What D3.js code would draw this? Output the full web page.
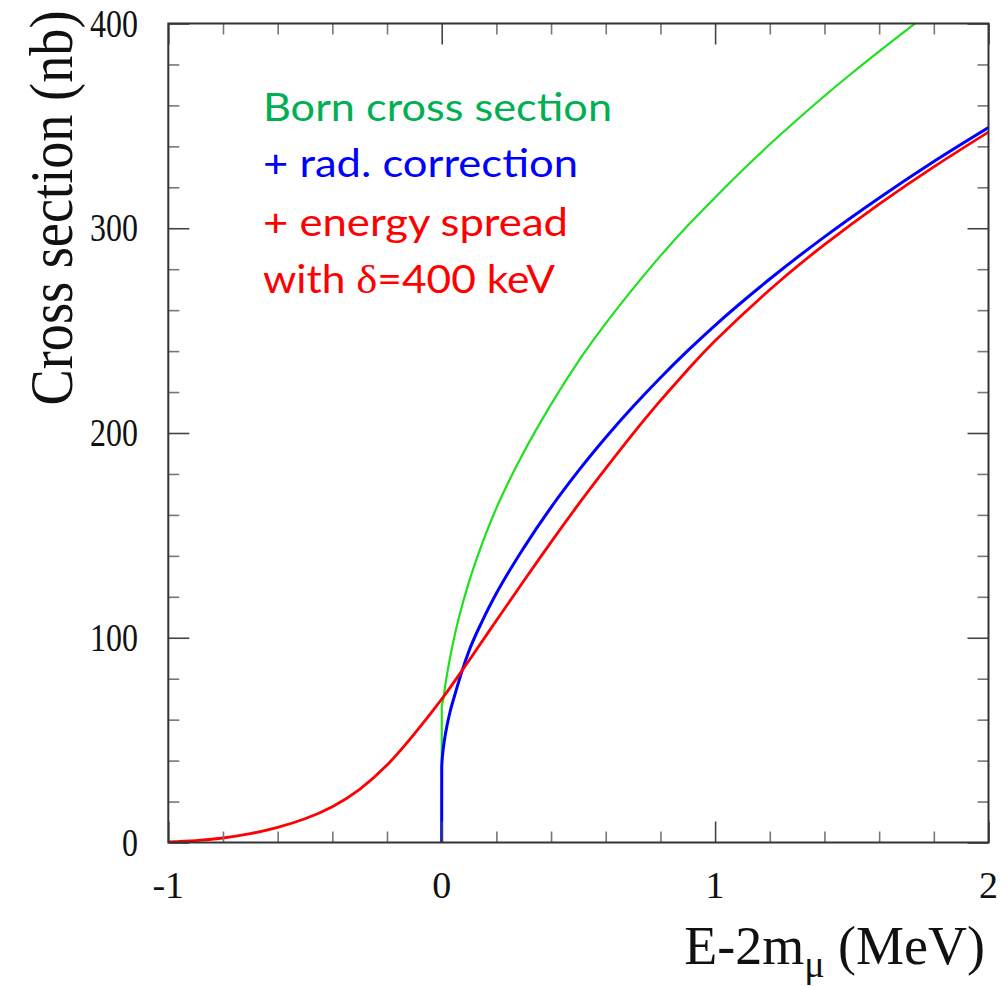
<!DOCTYPE html>
<html>
<head>
<meta charset="utf-8">
<script src="https://cdn.jsdelivr.net/npm/d3@7"></script>
<style>
  html, body { margin: 0; padding: 0; background: #ffffff; }
  svg { display: block; }
</style>
</head>
<body>
<svg id="chart" width="1007" height="986"></svg>
<script>
// Axis ticks
const xTicksMajor = [-1, 0, 1, 2];
const xTicksMinor = [-0.8, -0.6, -0.4, -0.2, 0.2, 0.4, 0.6, 0.8, 1.2, 1.4, 1.6, 1.8];
const yTicksMajor = [0, 100, 200, 300, 400];
const yTicksMinor = [20, 40, 60, 80, 120, 140, 160, 180, 220, 240, 260, 280, 320, 340, 360, 380];

// Born cross section (nb) vs E-2m_mu (MeV)
const bornE  = [0, 0.0002, 0.005, 0.01, 0.02, 0.03, 0.05, 0.075, 0.1, 0.15, 0.2, 0.3, 0.4, 0.5, 0.6, 0.7, 0.8, 0.9, 1.0, 1.1, 1.2, 1.3, 1.4, 1.5, 1.6, 1.7, 1.8, 1.9, 2.0];
const bornXS = [0, 67, 69.3, 73.9, 82.5, 89.9, 102.7, 115.9, 127.3, 146.7, 163.3, 190.6, 214, 235, 253.5, 270.5, 286.5, 301.3, 315, 328.3, 341, 353, 364.6, 375.7, 386.4, 396.8, 406.8, 416.5, 426];

// with radiative correction
const radE  = [0, 0.0002, 0.005, 0.01, 0.02, 0.03, 0.05, 0.075, 0.1, 0.15, 0.2, 0.3, 0.4, 0.5, 0.6, 0.7, 0.8, 0.9, 1.0, 1.2, 1.4, 1.6, 1.8, 2.0];
const radXS = [0, 37, 45, 50, 57.5, 63.5, 73, 84, 93.6, 108.6, 121.7, 143.9, 163.7, 181.5, 197.8, 212.9, 227, 240.2, 252.6, 275.2, 295.8, 314.8, 332.6, 349.2];

// with radiative correction and beam energy spread
const smearE  = [-1.0, -0.9, -0.8, -0.7, -0.6, -0.5, -0.4, -0.3, -0.2, -0.1, 0, 0.05, 0.1, 0.2, 0.3, 0.4, 0.5, 0.6, 0.7, 0.8, 0.9, 1.0, 1.2, 1.4, 1.6, 1.8, 2.0];
const smearXS = [0.3, 0.9, 2.2, 4.3, 7.4, 11.6, 17.5, 26, 37.8, 53, 70, 79.3, 88.9, 108.4, 127.7, 146.7, 165.1, 182.7, 199.7, 215.8, 230.9, 245, 270, 292, 311.8, 330, 347];

const legendLines = ["Born cross section", "+ rad. correction", "+ energy spread", "with "];

const svg = d3.select("#chart");

const plotLeft = 168.3, plotRight = 988.5, plotTop = 23.5, plotBottom = 842.5;
const x = d3.scaleLinear().domain([-1, 2]).range([plotLeft, plotRight]);
const y = d3.scaleLinear().domain([0, 400]).range([plotBottom, plotTop]);

// clip region for the curves
svg.append("defs").append("clipPath").attr("id", "plotClip")
  .append("rect").attr("x", plotLeft).attr("y", plotTop)
  .attr("width", plotRight - plotLeft).attr("height", plotBottom - plotTop);

// curves: the two threshold curves jump at E = 2m, so they use a monotone
// interpolation; the smeared curve is smooth everywhere
const series = [
  { e: bornE,  s: bornXS,  color: "#1ee01e", width: 2.2, curve: d3.curveMonotoneX },
  { e: radE,   s: radXS,   color: "#0000ff", width: 3,   curve: d3.curveMonotoneX },
  { e: smearE, s: smearXS, color: "#ff0000", width: 2.8, curve: d3.curveNatural }
];
const curves = svg.append("g").attr("clip-path", "url(#plotClip)");
series.forEach(sr => {
  const line = d3.line().x(d => x(d[0])).y(d => y(d[1])).curve(sr.curve);
  curves.append("path")
    .datum(sr.e.map((v, i) => [v, sr.s[i]]))
    .attr("d", line)
    .attr("fill", "none")
    .attr("stroke", sr.color)
    .attr("stroke-width", sr.width)
    .attr("stroke-linejoin", "round");
});

// ticks on all four sides, pointing inward
function tickAxis(axisFn, scale, values, size, transform, color) {
  const g = svg.append("g").attr("transform", transform)
    .call(axisFn(scale).tickValues(values).tickSize(-size).tickFormat(""));
  g.select(".domain").remove();
  g.selectAll(".tick line").attr("stroke", color).attr("stroke-width", 1.6);
  return g;
}
tickAxis(d3.axisBottom, x, xTicksMajor, 21, `translate(0,${plotBottom})`, "#444");
tickAxis(d3.axisBottom, x, xTicksMinor, 11, `translate(0,${plotBottom})`, "#777");
tickAxis(d3.axisTop, x, xTicksMajor, 21, `translate(0,${plotTop})`, "#444");
tickAxis(d3.axisTop, x, xTicksMinor, 11, `translate(0,${plotTop})`, "#777");
tickAxis(d3.axisLeft, y, yTicksMajor, 21, `translate(${plotLeft},0)`, "#444");
tickAxis(d3.axisLeft, y, yTicksMinor, 11, `translate(${plotLeft},0)`, "#777");
tickAxis(d3.axisRight, y, yTicksMajor, 21, `translate(${plotRight},0)`, "#444");
tickAxis(d3.axisRight, y, yTicksMinor, 11, `translate(${plotRight},0)`, "#777");

// frame
svg.append("rect")
  .attr("x", plotLeft).attr("y", plotTop)
  .attr("width", plotRight - plotLeft).attr("height", plotBottom - plotTop)
  .attr("fill", "none").attr("stroke", "#333").attr("stroke-width", 2);

// tick labels
const serif = "'Liberation Serif', 'Times New Roman', serif";
svg.append("g").selectAll("text").data(xTicksMajor).join("text")
  .attr("x", d => x(d)).attr("y", 898)
  .attr("text-anchor", "middle")
  .attr("font-family", serif).attr("font-size", 38).attr("fill", "#111")
  .text(d => String(d));

svg.append("g").selectAll("text").data(yTicksMajor).join("text")
  .attr("text-anchor", "end")
  .attr("transform", d => `translate(138,${y(d) + 13}) scale(0.82,1)`)
  .attr("font-family", serif).attr("font-size", 39).attr("fill", "#111")
  .text(d => String(d));

// axis titles
svg.append("text")
  .attr("transform", "translate(72,208) rotate(-90) scale(0.89,1)")
  .attr("text-anchor", "middle")
  .attr("font-family", serif).attr("font-size", 61).attr("fill", "#111")
  .text("Cross section (nb)");

const xt = svg.append("text")
  .attr("x", 985).attr("y", 964)
  .attr("text-anchor", "end")
  .attr("font-family", serif).attr("font-size", 54).attr("fill", "#111");
xt.append("tspan").text("E-2m");
xt.append("tspan").attr("font-size", 38).attr("dy", 13).text("\u03bc");
xt.append("tspan").attr("dy", -13).text(" (MeV)");

// legend text
const sans = "Lato, 'Open Sans', sans-serif";
const legendColors = ["#00b050", "#0000ff", "#ff0000", "#ff0000"];
const legendWidths = [349, 315, 305, 292];
const legendY = [121, 177, 236, 293];
legendLines.forEach((t, i) => {
  const tx = svg.append("text")
    .attr("x", 263).attr("y", legendY[i])
    .attr("font-family", sans).attr("font-size", 38)
    .attr("fill", legendColors[i])
    .attr("textLength", legendWidths[i]).attr("lengthAdjust", "spacingAndGlyphs");
  if (i < 3) {
    tx.text(t);
  } else {
    tx.append("tspan").text(t);
    tx.append("tspan").attr("font-family", serif).attr("font-size", 40).text("\u03b4");
    tx.append("tspan").text("=400 keV");
  }
});
</script>
</body>
</html>
